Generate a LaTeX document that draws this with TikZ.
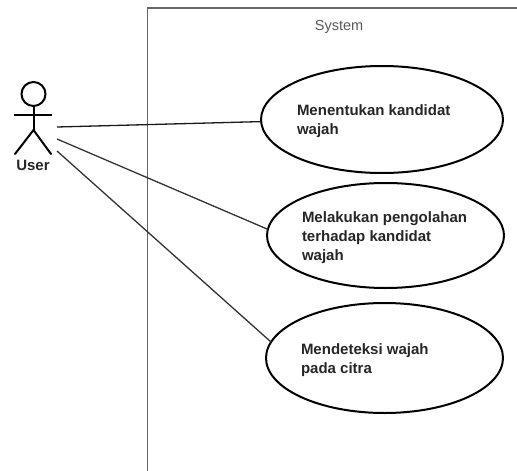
\documentclass[tikz,border=0pt]{standalone}
\usepackage{fontspec}
\setmainfont{Liberation Sans}
\usetikzlibrary{shapes.geometric}
\tikzset{
  usecase/.style={ellipse,draw=black,line width=2pt,inner sep=0pt,outer sep=0pt},
  uctext/.style={anchor=north west,align=left,inner sep=0pt,outer sep=0pt,text=black!85,font=\fontsize{15}{19}\selectfont\bfseries},
  stick/.style={draw=black,line width=2pt},
  assoc/.style={draw=black!80,line width=1.3pt},
  frameline/.style={draw=black!60,line width=1.4pt}
}
\begin{document}
\begin{tikzpicture}[x=1pt,y=-1pt]
\useasboundingbox (0,0) rectangle (517,471);
\fill[white] (0,0) rectangle (517,471);
% system boundary
\draw[frameline] (517,8) -- (147.5,8) -- (147.5,471);
\node[anchor=center,inner sep=0pt,text=black!65,font=\fontsize{14.5}{16}\selectfont] (sys) at (339,26.5) {System};
% actor
\node[circle,stick,minimum size=24pt,inner sep=0pt,outer sep=0pt] (head) at (33.5,94) {};
\coordinate (hip) at (33.5,130);
\coordinate (armL) at (14,114.5);
\coordinate (armR) at (52,114.5);
\coordinate (armM) at (33.5,114.5);
\coordinate (footL) at (15,154);
\coordinate (footR) at (51,154);
\draw[stick] (head.south) -- (hip);
\draw[stick] (armL) -- (armR);
\draw[stick,line cap=round] (footL) -- (hip) -- (footR);
\node[inner sep=0pt,text=black!85,font=\fontsize{15}{16}\selectfont\bfseries] (user) at (33,165.5) {User};
% use cases
\node[usecase,minimum width=242pt,minimum height=107pt] (e1) at (382,119.5) {};
\node[usecase,minimum width=237pt,minimum height=105pt] (e2) at (385.5,235.5) {};
\node[usecase,minimum width=237pt,minimum height=110pt] (e3) at (384.5,358) {};
\node[uctext] (t1) at (297,104.5) {Menentukan kandidat\\wajah};
\node[uctext] (t2) at (302,211.5) {Melakukan pengolahan\\terhadap kandidat\\wajah};
\node[uctext] (t3) at (301,343.5) {Mendeteksi wajah\\pada citra};
% associations
\coordinate (a1) at (57,127);
\coordinate (a2) at (57,139);
\coordinate (a3) at (57,151);
\draw[assoc,draw=black!90] (a1) -- (e1.181.4);
\draw[assoc] (a2) -- (e2.177);
\draw[assoc] (a3) -- (e3.172.7);
\end{tikzpicture}
\end{document}
